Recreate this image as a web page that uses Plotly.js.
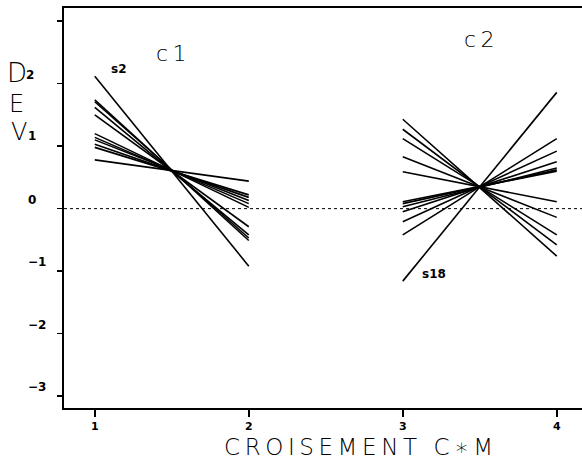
<!DOCTYPE html>
<html>
<head>
<meta charset="utf-8">
<script src="https://cdn.plot.ly/plotly-3.0.1.min.js"></script>
<style>html,body{margin:0;padding:0;background:#fff;}#chart{width:582px;height:461px;}</style>
</head>
<body>
<div id="chart"></div>
<script>
// Data
var c1X = [1, 2];
var c1Left  = [2.12, 1.74, 1.71, 1.62, 1.50, 1.20, 1.14, 1.10, 1.03, 0.98, 0.78];
var c1Right = [-0.92, -0.51, -0.47, -0.42, -0.29, 0.02, 0.08, 0.13, 0.18, 0.22, 0.44];
var c2X = [3, 4];
var c2Left  = [1.43, 1.27, 1.12, 0.83, 0.59, 0.11, 0.08, 0.03, -0.05, -0.21, -0.42, -1.16];
var c2Right = [-0.76, -0.58, -0.42, -0.14, 0.11, 0.60, 0.62, 0.65, 0.75, 0.92, 1.12, 1.86];
var xTicks = [1, 2, 3, 4];
var yTicks = [-3, -2, -1, 0, 1, 2, 3];
var yTickLabels = ['\u22123', '\u22122', '\u22121', '0'];
var yTickLabelVals = [-3, -2, -1, 0];
var xTitle = 'C\u2009R\u2009O\u2009I\u2009S\u2009E\u2009M\u2009E\u2009N\u2009T\u2009 \u2009C\u2009\u2217\u2009M';

var traces = [];
function addGroup(xs, left, right) {
  for (var i = 0; i < left.length; i++) {
    traces.push({
      type: 'scatter', mode: 'lines',
      x: xs, y: [left[i], right[i]],
      line: {color: '#000', width: 1.6},
      hoverinfo: 'skip', showlegend: false
    });
  }
}
addGroup(c1X, c1Left, c1Right);
addGroup(c2X, c2Left, c2Right);

var thin = {family: 'DejaVu Sans', color: '#000', weight: 200};
var boldSmall = {family: 'DejaVu Sans', color: '#000', size: 12, weight: 700};
function f(base, size) { return Object.assign({}, base, {size: size}); }

var annotations = [];
yTickLabelVals.forEach(function (v, i) {
  annotations.push({xref: 'paper', yref: 'y', x: 0, y: v, xanchor: 'left', yanchor: 'middle',
    xshift: -38, yshift: 9, text: yTickLabels[i], showarrow: false, font: boldSmall});
});
annotations.push(
  {xref: 'paper', yref: 'paper', x: 0, y: 0, xanchor: 'center', yanchor: 'middle', xshift: -47, yshift: 335, text: 'D', showarrow: false, font: f(thin, 26)},
  {xref: 'paper', yref: 'paper', x: 0, y: 0, xanchor: 'center', yanchor: 'middle', xshift: -34, yshift: 333, text: '2', showarrow: false, font: boldSmall},
  {xref: 'paper', yref: 'paper', x: 0, y: 0, xanchor: 'center', yanchor: 'middle', xshift: -48, yshift: 304, text: 'E', showarrow: false, font: f(thin, 24)},
  {xref: 'paper', yref: 'paper', x: 0, y: 0, xanchor: 'center', yanchor: 'middle', xshift: -45, yshift: 276, text: 'V', showarrow: false, font: f(thin, 24)},
  {xref: 'paper', yref: 'paper', x: 0, y: 0, xanchor: 'center', yanchor: 'middle', xshift: -32, yshift: 272, text: '1', showarrow: false, font: boldSmall},
  {xref: 'x', yref: 'y', x: 1.5, y: 2.48, xanchor: 'center', yanchor: 'middle', text: 'c\u20091', showarrow: false, font: f(thin, 22)},
  {xref: 'x', yref: 'y', x: 3.5, y: 2.70, xanchor: 'center', yanchor: 'middle', text: 'c\u20092', showarrow: false, font: f(thin, 22)},
  {xref: 'x', yref: 'y', x: 1.16, y: 2.24, xanchor: 'center', yanchor: 'middle', text: 's2', showarrow: false, font: boldSmall},
  {xref: 'x', yref: 'y', x: 3.2, y: -1.05, xanchor: 'center', yanchor: 'middle', text: 's18', showarrow: false, font: boldSmall},
  {xref: 'paper', yref: 'paper', x: 0.5676, y: 0, xanchor: 'center', yanchor: 'middle', yshift: -39, text: xTitle, showarrow: false, font: f(thin, 23)}
);

var layout = {
  width: 582, height: 461,
  margin: {l: 64, r: 0, t: 8, b: 53},
  paper_bgcolor: '#fff', plot_bgcolor: '#fff',
  showlegend: false,
  xaxis: {
    range: [0.80, 4.164], tickvals: xTicks, ticktext: xTicks.map(String),
    ticks: 'outside', ticklen: 7, tickwidth: 1.5, tickcolor: '#000',
    showline: true, linecolor: '#000', linewidth: 1.8, mirror: true,
    showgrid: false, zeroline: false,
    tickfont: f(boldSmall, 11)
  },
  yaxis: {
    range: [-3.19, 3.21], tickvals: yTicks,
    ticks: 'outside', ticklen: 5, tickwidth: 1.5, tickcolor: '#000',
    showline: true, linecolor: '#000', linewidth: 1.8, mirror: false,
    showgrid: false, zeroline: false, showticklabels: false
  },
  shapes: [{type: 'line', xref: 'paper', yref: 'y', x0: 0, x1: 1, y0: 0, y1: 0,
    line: {color: '#000', width: 1, dash: 'dot'}}],
  annotations: annotations
};

Plotly.newPlot('chart', traces, layout, {displayModeBar: false, staticPlot: true});
</script>
</body>
</html>
